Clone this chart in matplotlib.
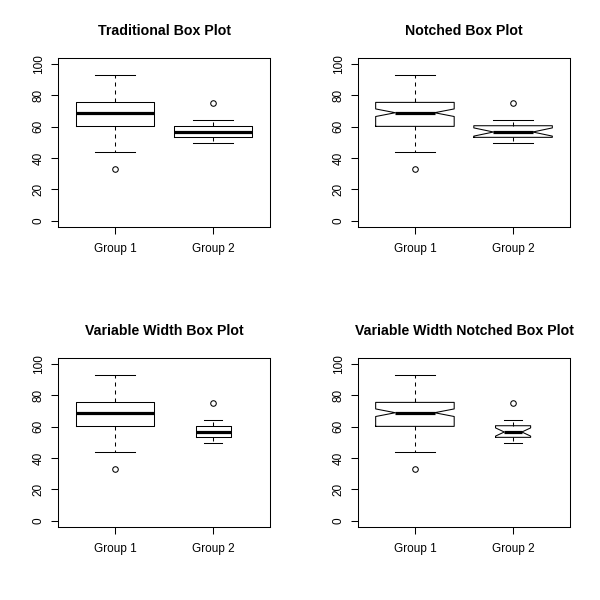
import numpy as np
import matplotlib
matplotlib.use("Agg")
import matplotlib.pyplot as plt

plt.rcParams["font.family"] = ["Liberation Sans", "DejaVu Sans"]

# ---------------- data ----------------
groups = ["Group 1", "Group 2"]
whisker_low = [43.6, 49.8]
q1 = [60.2, 53.2]
median = [68.9, 56.6]
q3 = [75.5, 60.6]
whisker_high = [93.0, 64.5]
outliers = [[33.0], [75.0]]
n_obs = [100, 20]

titles = ["Traditional Box Plot", "Notched Box Plot",
          "Variable Width Box Plot", "Variable Width Notched Box Plot"]
notched = [False, True, False, True]
varwidth = [False, False, True, True]

# ---------------- box statistics ----------------
stats = []
for i, g in enumerate(groups):
    half = 1.58 * (q3[i] - q1[i]) / np.sqrt(n_obs[i])
    stats.append(dict(label=g, whislo=whisker_low[i], q1=q1[i], med=median[i],
                      q3=q3[i], whishi=whisker_high[i], fliers=outliers[i],
                      cilo=median[i] - half, cihi=median[i] + half))

n_arr = np.array(n_obs, dtype=float)
var_w = list(0.8 * np.sqrt(n_arr / n_arr.max()))

# ---------------- figure ----------------
fig = plt.figure(figsize=(6, 6), dpi=100)
lefts = [58 / 600, 358 / 600]
bottoms = [1 - 227 / 600, 1 - 527 / 600]
w, h = 212 / 600, 169.3 / 600

lw = 0.75
for k in range(4):
    ax = fig.add_axes([lefts[k % 2], bottoms[k // 2], w, h])
    widths = var_w if varwidth[k] else [0.8, 0.8]
    ax.bxp(stats, positions=[1, 2], widths=widths, shownotches=notched[k],
           boxprops=dict(color="black", linewidth=lw),
           whiskerprops=dict(color="black", linewidth=lw, linestyle=(0, (3.84, 3.84))),
           capprops=dict(color="black", linewidth=lw),
           medianprops=dict(color="black", linewidth=2.3, solid_capstyle="butt"),
           flierprops=dict(marker="o", markerfacecolor="none", markeredgecolor="black",
                           markersize=4, markeredgewidth=lw))
    ax.set_xlim(0.42, 2.58)
    ax.set_ylim(-4, 104)
    ax.set_yticks(np.arange(0, 101, 20))
    ax.set_xticks([1, 2])
    ax.set_xticklabels(groups)
    for lab in ax.get_yticklabels():
        lab.set_rotation(90)
        lab.set_va("center")
    ax.tick_params(axis="y", length=5, width=lw, labelsize=8.5, pad=4.5)
    ax.tick_params(axis="x", length=5, width=lw, labelsize=8.5, pad=6.5)
    for s in ax.spines.values():
        s.set_linewidth(lw)
    ax.set_title(titles[k], fontsize=10.2, fontweight="bold", pad=16.3)

fig.savefig("out.png", dpi=100)
